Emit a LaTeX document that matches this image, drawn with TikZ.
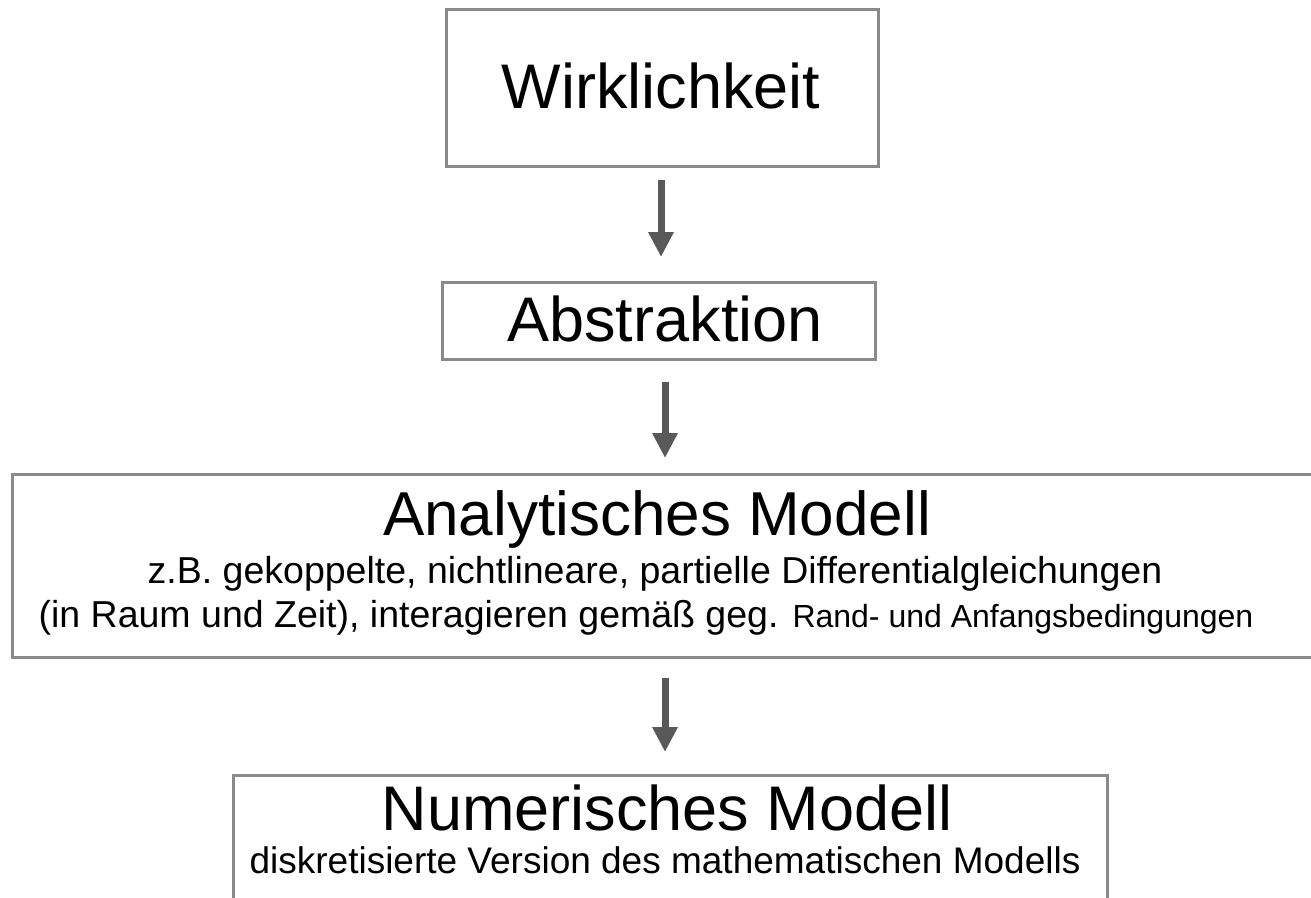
\documentclass[tikz,border=0pt]{standalone}
\usepackage{fontspec}
\setmainfont{Liberation Sans}
\usetikzlibrary{arrows.meta}
\definecolor{boxgray}{HTML}{8A8A8A}
\definecolor{arrowgray}{HTML}{595959}
\begin{document}
\begin{tikzpicture}[x=1pt,y=-1pt,
  boxline/.style={draw=boxgray,line width=3pt},
  flow/.style={draw=arrowgray,line width=7pt,-{Triangle[width=24pt,length=25pt]}},
  every node/.style={inner sep=0pt,outer sep=0pt}]
\useasboundingbox (0,0) rectangle (1311,897);
\begin{scope}
\clip (0,0) rectangle (1311,897);
% boxes
\node[boxline,minimum width=432pt,minimum height=157pt] (wirk) at (662,87.5) {};
\node[boxline,minimum width=433pt,minimum height=77pt] (abst) at (658.5,320.5) {};
\node[boxline,minimum width=1340pt,minimum height=183pt] (ana) at (682,565.5) {};
\node[boxline,minimum width=874pt,minimum height=160pt] (num) at (670,855) {};
% texts
\node[anchor=base] (twirk) at (661,108) {\fontsize{63}{70}\selectfont Wirklichkeit};
\node[anchor=base] (tabst) at (665,341) {\fontsize{63}{70}\selectfont Abstraktion};
\node[anchor=base] (tana) at (657,535) {\fontsize{62}{70}\selectfont Analytisches Modell};
\node[anchor=base] (tana1) at (655,583) {\fontsize{37.5}{40}\selectfont z.B. gekoppelte, nichtlineare, partielle Differentialgleichungen};
\node[anchor=base] (tana2) at (646,627) {\fontsize{37.5}{40}\selectfont (in Raum und Zeit), interagieren gemäß geg. {\fontsize{32}{34}\selectfont Rand- und Anfangsbedingungen}};
\node[anchor=base] (tnum) at (667,830) {\fontsize{63}{70}\selectfont Numerisches Modell};
\node[anchor=base] (tnum1) at (665,873) {\fontsize{37}{40}\selectfont diskretisierte Version des mathematischen Modells};
\end{scope}
% arrows
\coordinate (a1s) at (661,180); \coordinate (a1e) at (661,257);
\coordinate (a2s) at (665,382); \coordinate (a2e) at (665,458);
\coordinate (a3s) at (665,678); \coordinate (a3e) at (665,752);
\draw[flow] (a1s) -- (a1e);
\draw[flow] (a2s) -- (a2e);
\draw[flow] (a3s) -- (a3e);
\end{tikzpicture}
\end{document}
